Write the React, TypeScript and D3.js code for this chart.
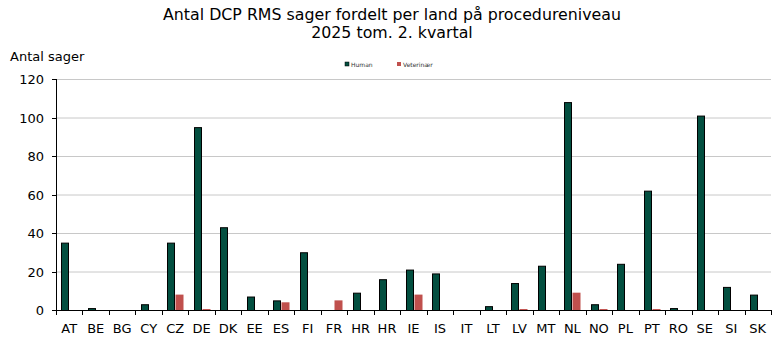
import * as d3 from "d3";

const countries = ["AT","BE","BG","CY","CZ","DE","DK","EE","ES","FI","FR","HR","HR","IE","IS","IT","LT","LV","MT","NL","NO","PL","PT","RO","SE","SI","SK"];
const human = [35,1,0,3,35,95,43,7,5,30,0,9,16,21,19,0,2,14,23,108,3,24,62,1,101,12,8];
const vet = [0,0,0,0,8,0.5,0,0,4,0,5,0,0,8,0,0,0,0.5,0,9,0.5,0,0.5,0,0,0,0];
const yTicks = [0,20,40,60,80,100,120];
const seriesNames = ["Human","Veterinær"];
const colors = ["#034f40","#c0504d"];

const W = 784, H = 353;
const m = { left: 56, right: 13, top: 79, bottom: 43 };
const font = "Verdana, 'DejaVu Sans', sans-serif";

export default function App() {
  const x = d3.scaleBand<number>().domain(countries.map((_, i) => i)).range([m.left, W - m.right]).paddingInner(0.4).paddingOuter(0.2);
  const band = (W - m.left - m.right) / countries.length;
  const y = d3.scaleLinear().domain([0, 120]).range([H - m.bottom, m.top]);
  const bw = x.bandwidth() / 2;
  const y0 = y(0);

  return (
    <svg width={W} height={H} style={{ position: "absolute", left: 0, top: 0 }} fontFamily={font}>
      <rect width={W} height={H} fill="#fff" />
      <text x={W / 2} y={20} textAnchor="middle" fontSize={15.8}>Antal DCP RMS sager fordelt per land på procedureniveau</text>
      <text x={W / 2} y={38} textAnchor="middle" fontSize={15.8}>2025 tom. 2. kvartal</text>
      <text x={10} y={61} fontSize={13}>Antal sager</text>
      {yTicks.filter(t => t > 0).map(t => (
        <line key={t} x1={m.left} x2={W - m.right} y1={y(t) + 0.5} y2={y(t) + 0.5} stroke="#c8c8c8" />
      ))}
      {yTicks.map(t => (
        <g key={t}>
          <line x1={m.left - 4} x2={m.left} y1={Math.round(y(t)) + 0.5} y2={Math.round(y(t)) + 0.5} stroke="#000" />
          <text x={m.left - 12} y={y(t) + 5} textAnchor="end" fontSize={13}>{t}</text>
        </g>
      ))}
      {countries.map((c, i) => {
        const x0 = x(i)!;
        return (
          <g key={i}>
            {human[i] > 0 && (
              <rect x={Math.round(x0) + 0.5} y={y(human[i]) + 0.5} width={Math.round(bw) - 1} height={y0 - y(human[i])} fill={colors[0]} stroke="#000" strokeWidth={1} />
            )}
            {vet[i] > 0 && (
              <rect x={Math.round(x0 + bw) + 0.5} y={y(vet[i])} width={Math.round(bw)} height={y0 - y(vet[i])} fill={colors[1]} />
            )}
            <text x={m.left + band * (i + 0.5)} y={H - 20} textAnchor="middle" fontSize={13}>{c}</text>
          </g>
        );
      })}
      {d3.range(countries.length + 1).map(i => (
        <line key={i} x1={Math.round(m.left + band * i) + 0.5} x2={Math.round(m.left + band * i) + 0.5} y1={y0} y2={y0 + 5} stroke="#000" />
      ))}
      <line x1={m.left + 0.5} x2={m.left + 0.5} y1={m.top} y2={y0} stroke="#000" />
      <line x1={m.left} x2={W - m.right} y1={Math.round(y0) + 0.5} y2={Math.round(y0) + 0.5} stroke="#000" />
      {seriesNames.map((s, i) => (
        <g key={s} transform={`translate(${345 + i * 52},63)`}>
          <rect x={0} y={-1} width={4} height={4} fill={colors[i]} stroke={i === 0 ? "#000" : "none"} strokeWidth={0.5} />
          <text x={6} y={4} fontSize={6} fill="#333">{s}</text>
        </g>
      ))}
    </svg>
  );
}
